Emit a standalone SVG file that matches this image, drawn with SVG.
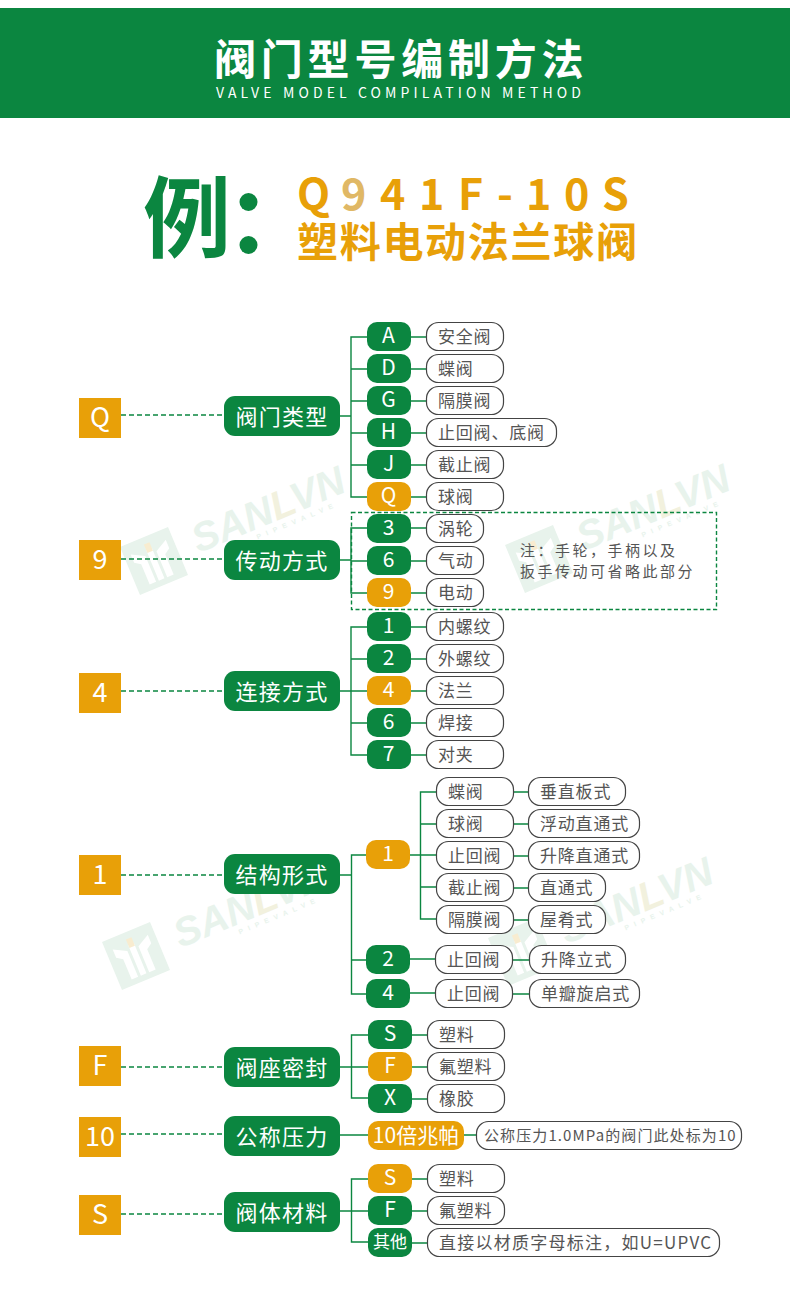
<svg xmlns="http://www.w3.org/2000/svg" xmlns:xlink="http://www.w3.org/1999/xlink" width="790" height="1299" viewBox="0 0 790 1299">
<style>
text{font-family:"Noto Sans CJK SC","Noto Sans",sans-serif}
.sq{fill:#e8a008}.g{fill:#0b8640}.o{fill:#e8a008}
.box{fill:#fff;stroke:#444;stroke-width:1.2}
.ln{fill:none;stroke:#0b8640;stroke-width:1.4}
.ds{fill:none;stroke:#0b8640;stroke-width:1.4;stroke-dasharray:5 3}
.sqt{fill:#fff;font-size:27px;text-anchor:middle}
.cat{fill:#fff;font-size:22px;letter-spacing:1.3px;text-anchor:middle}
.pt{fill:#fff;font-size:21px;text-anchor:middle}
.bt{fill:#555;font-size:17px;letter-spacing:.8px}
.wm{fill:#e8f3ec}
</style>
<defs>
<g id="wm">
<rect x="0" y="0" width="52" height="52" class="wm"/>
<path d="M7 11L20 18V46H13V24L7 20ZM45 11L32 18V46H39V24L45 20Z" fill="#fff"/>
<rect x="23" y="13" width="6" height="33" fill="#fff"/>
<rect x="23" y="7" width="6" height="9" fill="#f8ecd0"/>
<text x="70" y="36" style="font-family:'Liberation Sans',sans-serif;font-size:40px;font-weight:700;font-style:italic" fill="#e8f3ec">SAN<tspan fill="#f2f1de">L</tspan>VN</text>
<text x="130" y="46" style="font-family:'Liberation Sans',sans-serif;font-size:7px;letter-spacing:5.500px;font-weight:700" fill="#e8f3ec">PIPEVALVE</text>
</g>
</defs>
<rect width="790" height="1299" fill="#fff"/>
<use xlink:href="#wm" href="#wm" transform="translate(120,547) rotate(-22.600)"/>
<use xlink:href="#wm" href="#wm" transform="translate(505,545) rotate(-22.600)"/>
<use xlink:href="#wm" href="#wm" transform="translate(102,942) rotate(-22.600)"/>
<use xlink:href="#wm" href="#wm" transform="translate(488,938) rotate(-22.600)"/>

<g id="header">
<rect x="0" y="8" width="790" height="110" class="g"/>
<text x="214" y="75" fill="#fff" style="font-size:42px;font-weight:700;letter-spacing:4.800px">阀门型号编制方法</text>
<text x="216" y="98" fill="#fff" style="font-size:14px;letter-spacing:4.120px">VALVE MODEL COMPILATION METHOD</text>
</g>
<g id="example">
<text x="143" y="250" class="g" style="font-size:88px;font-weight:700">例</text>
<circle cx="248.500" cy="202" r="9" class="g"/>
<circle cx="248.500" cy="245" r="9" class="g"/>
<text y="210" style="font-size:43px;font-weight:700" fill="#e8a008"><tspan x="297">Q</tspan><tspan x="341" fill="#e0b865">9</tspan><tspan x="380">4</tspan><tspan x="419">1</tspan><tspan x="458">F</tspan><tspan x="497">-</tspan><tspan x="526">1</tspan><tspan x="564">0</tspan><tspan x="602">S</tspan></text>
<text x="297" y="257" fill="#e8a008" style="font-size:41px;font-weight:700;letter-spacing:1.700px">塑料电动法兰球阀</text>
</g>

<g id="connectors">
<path class="ds" d="M121 415H224M121 559H224M121 691H224M121 875H224M121 1067H224M121 1134H224M121 1214H224"/>
<rect class="ds" x="351.500" y="512.500" width="365" height="97" style="stroke-dasharray:4 2.500"/>
<path class="ln" d="M340 416H351M367 337H351V497H367M351 369H367M351 401H367M351 433H367M351 465H367M411 337H426M411 369H426M411 401H426M411 433H426M411 465H426M411 497H426"/>
<path class="ln" d="M340 560H351M367 528H351V593H367M351 561H367M411 528H426M411 561H426M411 593H426"/>
<path class="ln" d="M340 691H351M367 627H351V755H367M351 659H367M351 691H367M351 723H367M411 627H426M411 659H426M411 691H426M411 723H426M411 755H426"/>
<path class="ln" d="M340 875H351.500M366 855H351.500V994H366M351.500 960H366M410 855H436M436 792H420.500V919H436M420.500 824H436M420.500 887H436M514 792H528M514 824H528M514 856H528M514 888H528M514 920H528M410 959H435M513 960H529M410 993H435M513 994H529"/>
<path class="ln" d="M340 1067H351.500M368 1035H351.500V1098H368M351.500 1067H368M412 1035H427M412 1067H427M412 1099H427"/>
<path class="ln" d="M340 1135H368M464 1135H476"/>
<path class="ln" d="M340 1211H351.500M368 1179H351.500V1242H368M351.500 1211H368M412 1179H427M412 1211H427M412 1243H427"/>
</g>

<g id="n-q"><rect x="79" y="398" width="42" height="40" class="sq"/><text x="100" y="427" class="sqt">Q</text></g>
<g id="n-9"><rect x="79" y="540" width="42" height="40" class="sq"/><text x="100" y="569" class="sqt">9</text></g>
<g id="n-4"><rect x="79" y="673" width="42" height="40" class="sq"/><text x="100" y="702" class="sqt">4</text></g>
<g id="n-1"><rect x="79" y="855" width="42" height="40" class="sq"/><text x="100" y="884" class="sqt">1</text></g>
<g id="n-f"><rect x="79" y="1046" width="42" height="40" class="sq"/><text x="100" y="1075" class="sqt">F</text></g>
<g id="n-10"><rect x="79" y="1117" width="42" height="40" class="sq"/><text x="100" y="1146" class="sqt">10</text></g>
<g id="n-s"><rect x="79" y="1195" width="42" height="40" class="sq"/><text x="100" y="1224" class="sqt">S</text></g>

<g id="c-type"><rect x="224" y="396" width="116" height="40" rx="11" class="g"/><text x="282" y="425" class="cat">阀门类型</text></g>
<g id="c-drive"><rect x="224" y="540" width="116" height="40" rx="11" class="g"/><text x="282" y="569" class="cat">传动方式</text></g>
<g id="c-conn"><rect x="224" y="671" width="116" height="40" rx="11" class="g"/><text x="282" y="700" class="cat">连接方式</text></g>
<g id="c-struct"><rect x="224" y="854" width="116" height="40" rx="11" class="g"/><text x="282" y="883" class="cat">结构形式</text></g>
<g id="c-seal"><rect x="224" y="1047" width="116" height="40" rx="11" class="g"/><text x="282" y="1076" class="cat">阀座密封</text></g>
<g id="c-press"><rect x="224" y="1116" width="116" height="40" rx="11" class="g"/><text x="282" y="1145" class="cat">公称压力</text></g>
<g id="c-body"><rect x="224" y="1192" width="116" height="40" rx="11" class="g"/><text x="282" y="1221" class="cat">阀体材料</text></g>

<g id="t-a"><rect x="367" y="322" width="44" height="29" rx="10" class="g"/><text x="388.500" y="343" class="pt">A</text><rect x="426.500" y="322.500" width="77" height="28" rx="12" class="box"/><text x="438" y="343" class="bt">安全阀</text></g>
<g id="t-d"><rect x="367" y="354" width="44" height="29" rx="10" class="g"/><text x="388.500" y="375" class="pt">D</text><rect x="426.500" y="354.500" width="77" height="28" rx="12" class="box"/><text x="438" y="375" class="bt">蝶阀</text></g>
<g id="t-g"><rect x="367" y="386" width="44" height="29" rx="10" class="g"/><text x="388.500" y="407" class="pt">G</text><rect x="426.500" y="386.500" width="77" height="28" rx="12" class="box"/><text x="438" y="407" class="bt">隔膜阀</text></g>
<g id="t-h"><rect x="367" y="418" width="44" height="29" rx="10" class="g"/><text x="388.500" y="439" class="pt">H</text><rect x="426.500" y="418.500" width="130" height="28" rx="12" class="box"/><text x="438" y="439" class="bt">止回阀、底阀</text></g>
<g id="t-j"><rect x="367" y="450" width="44" height="29" rx="10" class="g"/><text x="388.500" y="471" class="pt">J</text><rect x="426.500" y="450.500" width="77" height="28" rx="12" class="box"/><text x="438" y="471" class="bt">截止阀</text></g>
<g id="t-q"><rect x="367" y="482" width="44" height="29" rx="10" class="o"/><text x="388.500" y="503" class="pt">Q</text><rect x="426.500" y="482.500" width="77" height="28" rx="12" class="box"/><text x="438" y="503" class="bt">球阀</text></g>

<g id="d-3"><rect x="367" y="514" width="44" height="29" rx="10" class="g"/><text x="388.500" y="535" class="pt">3</text><rect x="426.500" y="514.500" width="57" height="28" rx="12" class="box"/><text x="438" y="535" class="bt">涡轮</text></g>
<g id="d-6"><rect x="367" y="546" width="44" height="29" rx="10" class="g"/><text x="388.500" y="567" class="pt">6</text><rect x="426.500" y="546.500" width="57" height="28" rx="12" class="box"/><text x="438" y="567" class="bt">气动</text></g>
<g id="d-9"><rect x="367" y="578" width="44" height="29" rx="10" class="o"/><text x="388.500" y="599" class="pt">9</text><rect x="426.500" y="578.500" width="57" height="28" rx="12" class="box"/><text x="438" y="599" class="bt">电动</text></g>
<g id="note"><text x="520" y="556" fill="#555" style="font-size:15px;letter-spacing:2.500px">注：手轮，手柄以及</text><text x="520" y="577" fill="#555" style="font-size:15px;letter-spacing:2.500px">扳手传动可省略此部分</text></g>

<g id="j-1"><rect x="367" y="612" width="44" height="29" rx="10" class="g"/><text x="388.500" y="633" class="pt">1</text><rect x="426.500" y="612.500" width="77" height="28" rx="12" class="box"/><text x="438" y="633" class="bt">内螺纹</text></g>
<g id="j-2"><rect x="367" y="644" width="44" height="29" rx="10" class="g"/><text x="388.500" y="665" class="pt">2</text><rect x="426.500" y="644.500" width="77" height="28" rx="12" class="box"/><text x="438" y="665" class="bt">外螺纹</text></g>
<g id="j-4"><rect x="367" y="676" width="44" height="29" rx="10" class="o"/><text x="388.500" y="697" class="pt">4</text><rect x="426.500" y="676.500" width="77" height="28" rx="12" class="box"/><text x="438" y="697" class="bt">法兰</text></g>
<g id="j-6"><rect x="367" y="708" width="44" height="29" rx="10" class="g"/><text x="388.500" y="729" class="pt">6</text><rect x="426.500" y="708.500" width="77" height="28" rx="12" class="box"/><text x="438" y="729" class="bt">焊接</text></g>
<g id="j-7"><rect x="367" y="740" width="44" height="29" rx="10" class="g"/><text x="388.500" y="761" class="pt">7</text><rect x="426.500" y="740.500" width="77" height="28" rx="12" class="box"/><text x="438" y="761" class="bt">对夹</text></g>

<g id="s-1"><rect x="366" y="840" width="44" height="29" rx="10" class="o"/><text x="388" y="861" class="pt">1</text></g>
<g id="s-1a"><rect x="436.500" y="777.500" width="77" height="28" rx="12" class="box"/><text x="448" y="798" class="bt">蝶阀</text><rect x="528.500" y="777.500" width="97" height="28" rx="12" class="box"/><text x="540" y="798" class="bt">垂直板式</text></g>
<g id="s-1b"><rect x="436.500" y="809.500" width="77" height="28" rx="12" class="box"/><text x="448" y="830" class="bt">球阀</text><rect x="528.500" y="809.500" width="111" height="28" rx="12" class="box"/><text x="540" y="830" class="bt">浮动直通式</text></g>
<g id="s-1c"><rect x="436.500" y="841.500" width="77" height="28" rx="12" class="box"/><text x="448" y="862" class="bt">止回阀</text><rect x="528.500" y="841.500" width="111" height="28" rx="12" class="box"/><text x="540" y="862" class="bt">升降直通式</text></g>
<g id="s-1d"><rect x="436.500" y="873.500" width="77" height="28" rx="12" class="box"/><text x="448" y="894" class="bt">截止阀</text><rect x="528.500" y="873.500" width="77" height="28" rx="12" class="box"/><text x="540" y="894" class="bt">直通式</text></g>
<g id="s-1e"><rect x="436.500" y="905.500" width="77" height="28" rx="12" class="box"/><text x="448" y="926" class="bt">隔膜阀</text><rect x="528.500" y="905.500" width="77" height="28" rx="12" class="box"/><text x="540" y="926" class="bt">屋肴式</text></g>
<g id="s-2"><rect x="366" y="945" width="44" height="29" rx="10" class="g"/><text x="388" y="966" class="pt">2</text><rect x="435.500" y="945.500" width="77" height="28" rx="12" class="box"/><text x="447" y="966" class="bt">止回阀</text><rect x="529.500" y="945.500" width="96" height="28" rx="12" class="box"/><text x="541" y="966" class="bt">升降立式</text></g>
<g id="s-4"><rect x="366" y="979" width="44" height="29" rx="10" class="g"/><text x="388" y="1000" class="pt">4</text><rect x="435.500" y="979.500" width="77" height="28" rx="12" class="box"/><text x="447" y="1000" class="bt">止回阀</text><rect x="529.500" y="979.500" width="110" height="28" rx="12" class="box"/><text x="541" y="1000" class="bt">单瓣旋启式</text></g>

<g id="f-s"><rect x="368" y="1020" width="44" height="29" rx="10" class="g"/><text x="390" y="1041" class="pt">S</text><rect x="427.500" y="1020.500" width="77" height="28" rx="12" class="box"/><text x="439" y="1041" class="bt">塑料</text></g>
<g id="f-f"><rect x="368" y="1052" width="44" height="29" rx="10" class="o"/><text x="390" y="1073" class="pt">F</text><rect x="427.500" y="1052.500" width="77" height="28" rx="12" class="box"/><text x="439" y="1073" class="bt">氟塑料</text></g>
<g id="f-x"><rect x="368" y="1084" width="44" height="29" rx="10" class="g"/><text x="390" y="1105" class="pt">X</text><rect x="427.500" y="1084.500" width="77" height="28" rx="12" class="box"/><text x="439" y="1105" class="bt">橡胶</text></g>

<g id="p-10"><rect x="368" y="1121" width="96" height="29" rx="10" class="o"/><text x="416" y="1143" class="pt">10倍兆帕</text><rect x="476.500" y="1121.500" width="265" height="28" rx="12" class="box"/><text x="484" y="1141" fill="#555" style="font-size:15px;letter-spacing:1.100px">公称压力1.0MPa的阀门此处标为10</text></g>

<g id="b-s"><rect x="368" y="1164" width="44" height="29" rx="10" class="o"/><text x="390" y="1185" class="pt">S</text><rect x="427.500" y="1164.500" width="77" height="28" rx="12" class="box"/><text x="439" y="1185" class="bt">塑料</text></g>
<g id="b-f"><rect x="368" y="1196" width="44" height="29" rx="10" class="g"/><text x="390" y="1217" class="pt">F</text><rect x="427.500" y="1196.500" width="77" height="28" rx="12" class="box"/><text x="439" y="1217" class="bt">氟塑料</text></g>
<g id="b-o"><rect x="368" y="1228" width="44" height="29" rx="10" class="g"/><text x="390" y="1248" fill="#fff" style="font-size:17px;text-anchor:middle">其他</text><rect x="427.500" y="1228.500" width="292" height="28" rx="12" class="box"/><text x="439" y="1249" class="bt" style="letter-spacing:1.250px">直接以材质字母标注，如U=UPVC</text></g>
</svg>
